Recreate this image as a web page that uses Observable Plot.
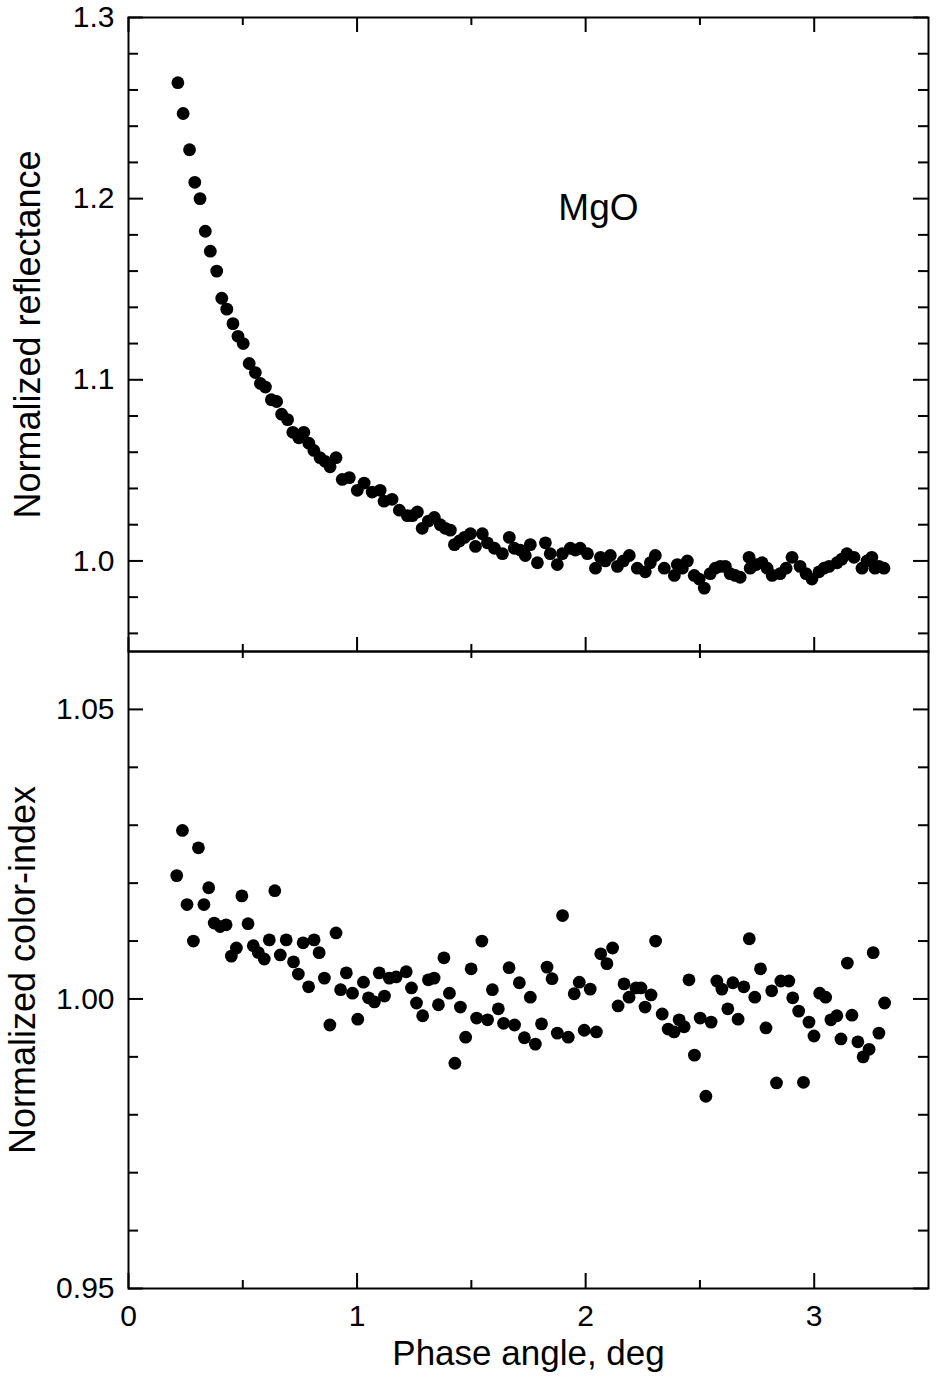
<!DOCTYPE html>
<html>
<head>
<meta charset="utf-8">
<script src="https://cdn.jsdelivr.net/npm/d3@7"></script>
<script src="https://cdn.jsdelivr.net/npm/@observablehq/plot@0.6"></script>
<style>
  html, body { margin: 0; padding: 0; background: #fff; }
  #chart { width: 938px; }
  #chart svg { display: block; }
</style>
</head>
<body>
<div id="chart"></div>
<script>
// ---- Data ----
// Top panel: normalized reflectance of MgO vs phase angle (deg)
const reflPhase = [0.216,0.239,0.267,0.290,0.313,0.336,0.358,0.386,0.408,0.430,
  0.457,0.479,0.502,0.528,0.555,0.577,0.599,0.625,0.648,0.670,
  0.696,0.719,0.745,0.767,0.789,0.811,0.838,0.860,0.882,0.908,
  0.935,0.966,1.001,1.031,1.066,1.101,1.118,1.153,1.185,1.220,
  1.242,1.264,1.285,1.312,1.338,1.364,1.386,1.408,1.426,1.448,
  1.470,1.496,1.518,1.548,1.570,1.601,1.636,1.666,1.688,1.714,
  1.736,1.758,1.789,1.824,1.845,1.876,1.898,1.933,1.955,1.976,
  2.008,2.043,2.065,2.086,2.108,2.139,2.165,2.191,2.226,2.261,
  2.283,2.305,2.344,2.388,2.401,2.423,2.445,2.475,2.497,2.519,
  2.545,2.567,2.589,2.611,2.632,2.654,2.676,2.715,2.720,2.746,
  2.772,2.794,2.816,2.851,2.877,2.903,2.938,2.964,2.990,3.021,
  3.043,3.065,3.100,3.121,3.143,3.174,3.209,3.231,3.252,3.266,
  3.283,3.305];
const reflValue = [1.264,1.247,1.227,1.209,1.200,1.182,1.171,1.160,1.145,1.139,
  1.131,1.124,1.120,1.109,1.104,1.098,1.096,1.089,1.088,1.081,
  1.078,1.071,1.068,1.071,1.065,1.061,1.057,1.055,1.052,1.057,
  1.045,1.046,1.039,1.043,1.038,1.039,1.033,1.034,1.028,1.025,
  1.025,1.027,1.018,1.022,1.024,1.020,1.018,1.017,1.009,1.011,
  1.013,1.015,1.008,1.015,1.010,1.007,1.004,1.013,1.007,1.006,
  1.003,1.009,0.999,1.010,1.004,0.998,1.004,1.007,1.006,1.007,
  1.004,0.996,1.002,1.000,1.003,0.997,1.000,1.003,0.996,0.994,
  0.999,1.003,0.996,0.992,0.998,0.996,1.000,0.992,0.990,0.985,
  0.993,0.996,0.997,0.997,0.993,0.992,0.991,1.002,0.996,0.998,
  0.999,0.996,0.992,0.993,0.996,1.002,0.997,0.993,0.990,0.994,
  0.996,0.997,0.999,1.001,1.004,1.002,0.996,1.000,1.002,0.996,
  0.997,0.996];

// Bottom panel: normalized color-index vs phase angle (deg)
const colorPhase = [0.211,0.236,0.256,0.284,0.306,0.330,0.351,0.375,0.401,0.427,
  0.450,0.472,0.496,0.523,0.546,0.568,0.594,0.616,0.640,0.664,
  0.690,0.722,0.743,0.764,0.788,0.812,0.834,0.857,0.881,0.908,
  0.928,0.953,0.980,1.003,1.028,1.050,1.076,1.097,1.120,1.141,
  1.171,1.215,1.238,1.260,1.287,1.312,1.337,1.356,1.380,1.404,
  1.428,1.452,1.475,1.499,1.523,1.546,1.571,1.592,1.618,1.641,
  1.665,1.689,1.710,1.732,1.758,1.780,1.807,1.831,1.853,1.876,
  1.899,1.924,1.950,1.972,1.994,2.020,2.047,2.066,2.093,2.118,
  2.142,2.168,2.190,2.220,2.242,2.260,2.286,2.306,2.335,2.361,
  2.387,2.409,2.431,2.452,2.476,2.501,2.526,2.549,2.574,2.596,
  2.622,2.644,2.667,2.692,2.716,2.740,2.765,2.789,2.814,2.835,
  2.854,2.889,2.906,2.932,2.953,2.977,2.999,3.024,3.050,3.073,
  3.099,3.117,3.145,3.165,3.191,3.214,3.240,3.258,3.283,3.308];
const colorValue = [1.0213,1.0291,1.0163,1.0100,1.0261,1.0163,1.0192,1.0131,1.0125,1.0128,
  1.0074,1.0088,1.0178,1.0130,1.0092,1.0080,1.0069,1.0102,1.0187,1.0076,
  1.0102,1.0064,1.0043,1.0097,1.0021,1.0102,1.0080,1.0036,0.9955,1.0114,
  1.0016,1.0045,1.0010,0.9965,1.0029,1.0002,0.9995,1.0045,1.0005,1.0036,
  1.0038,1.0047,1.0019,0.9993,0.9971,1.0033,1.0036,0.9990,1.0071,1.0010,
  0.9889,0.9986,0.9934,1.0052,0.9967,1.0100,0.9964,1.0016,0.9983,0.9958,
  1.0054,0.9955,1.0028,0.9933,1.0003,0.9922,0.9957,1.0055,1.0035,0.9941,
  1.0144,0.9934,1.0009,1.0029,0.9946,1.0017,0.9943,1.0078,1.0061,1.0088,
  0.9988,1.0026,1.0003,1.0019,1.0019,0.9986,1.0007,1.0100,0.9974,0.9948,
  0.9943,0.9964,0.9952,1.0033,0.9903,0.9967,0.9832,0.9960,1.0031,1.0017,
  0.9983,1.0028,0.9965,1.0021,1.0104,1.0003,1.0052,0.9950,1.0014,0.9855,
  1.0031,1.0031,1.0002,0.9979,0.9856,0.9960,0.9936,1.0010,1.0003,0.9964,
  0.9971,0.9931,1.0062,0.9972,0.9926,0.9900,0.9913,1.0080,0.9941,0.9993];

// Axes: domains and tick values
const xDomain = [0, 3.5];
const xTicksMajor = [0, 1, 2, 3];
const xTicksMinor = [0.5, 1.5, 2.5];
const reflDomain = [0.95, 1.3];
const reflTicksMajor = [1.0, 1.1, 1.2, 1.3];
const reflTicksMinor = [0.96, 0.98, 1.02, 1.04, 1.06, 1.08, 1.12, 1.14, 1.16, 1.18, 1.22, 1.24, 1.26, 1.28];
const colorDomain = [0.95, 1.06];
const colorTicksMajor = [0.95, 1.00, 1.05];
const colorTicksMinor = [0.96, 0.97, 0.98, 0.99, 1.01, 1.02, 1.03, 1.04];

// Texts
const reflTitle = "Normalized reflectance";
const colorTitle = "Normalized color-index";
const xTitle = "Phase angle, deg";
const sampleLabel = "MgO";
const sampleLabelPhase = 2.056;
const sampleLabelValue = 1.195;

// ---- Layout / style ----
const W = 938, ML = 128, MR = 10, PW = W - ML - MR;
const H1 = 651, MT1 = 17, PH1 = H1 - MT1;
const H2 = 733, MB2 = 96, PH2 = H2 - MB2;
const font = "'Liberation Sans', Arial, Helvetica, sans-serif";
const ink = "#000";
const SW = 2;
const MAJ = 15, MIN = 10, XMAJ = 15, XMIN = 8;
const R = 6.4;
const TICK_FS = 30, TITLE_FS = 36, XTITLE_FS = 35, LABEL_FS = 37;
const style = {fontFamily: font, fontSize: TICK_FS + "px", color: ink, background: "#fff", overflow: "visible"};

const reflData = reflPhase.map((p, i) => ({phase: p, value: reflValue[i]}));
const colorData = colorPhase.map((p, i) => ({phase: p, value: colorValue[i]}));

function yTicks(major, minor) {
  return [
    Plot.tickY(major, {y: d => d, insetRight: PW - MAJ, strokeWidth: SW}),
    Plot.tickY(minor, {y: d => d, insetRight: PW - MIN, strokeWidth: SW}),
    Plot.tickY(major, {y: d => d, insetLeft: PW - MAJ, strokeWidth: SW}),
    Plot.tickY(minor, {y: d => d, insetLeft: PW - MIN, strokeWidth: SW})
  ];
}

const topChart = Plot.plot({
  width: W, height: H1,
  marginLeft: ML, marginRight: MR, marginTop: MT1, marginBottom: 0,
  style,
  x: {domain: xDomain, axis: null},
  y: {domain: reflDomain},
  marks: [
    Plot.frame({stroke: ink, strokeWidth: SW}),
    ...yTicks(reflTicksMajor, reflTicksMinor),
    // top edge ticks (downward)
    Plot.tickX(xTicksMajor, {x: d => d, insetBottom: PH1 - XMAJ, strokeWidth: SW}),
    Plot.tickX(xTicksMinor, {x: d => d, insetBottom: PH1 - XMIN, strokeWidth: SW}),
    // bottom edge ticks (upward)
    Plot.tickX(xTicksMajor, {x: d => d, insetTop: PH1 - XMAJ + 1, strokeWidth: SW}),
    Plot.tickX(xTicksMinor, {x: d => d, insetTop: PH1 - 7, strokeWidth: SW}),
    Plot.axisY(reflTicksMajor, {tickSize: 0, tickPadding: 14, tickFormat: d3.format(".1f"), fontSize: TICK_FS, label: null}),
    Plot.dot(reflData, {x: "phase", y: "value", r: R, fill: ink, stroke: null}),
    Plot.text([reflTitle], {frameAnchor: "left", textAnchor: "middle", rotate: -90, dx: -100, fontSize: TITLE_FS, fill: ink}),
    Plot.text([sampleLabel], {x: () => sampleLabelPhase, y: () => sampleLabelValue, fontSize: LABEL_FS, fill: ink})
  ]
});

const bottomChart = Plot.plot({
  width: W, height: H2,
  marginLeft: ML, marginRight: MR, marginTop: 0, marginBottom: MB2,
  style,
  x: {domain: xDomain},
  y: {domain: colorDomain},
  marks: [
    Plot.frame({stroke: ink, strokeWidth: SW}),
    ...yTicks(colorTicksMajor, colorTicksMinor),
    // bottom edge ticks (upward)
    Plot.tickX(xTicksMajor, {x: d => d, insetTop: PH2 - XMAJ, strokeWidth: SW}),
    Plot.tickX(xTicksMinor, {x: d => d, insetTop: PH2 - XMIN, strokeWidth: SW}),
    // top edge ticks (downward)
    Plot.tickX(xTicksMinor, {x: d => d, insetBottom: PH2 - 7, strokeWidth: SW}),
    Plot.axisY(colorTicksMajor, {tickSize: 0, tickPadding: 14, tickFormat: d3.format(".2f"), fontSize: TICK_FS, label: null}),
    Plot.axisX(xTicksMajor, {tickSize: 0, tickPadding: 16, tickFormat: d3.format("d"), fontSize: TICK_FS, label: null}),
    Plot.dot(colorData, {x: "phase", y: "value", r: R, fill: ink, stroke: null}),
    Plot.text([colorTitle], {frameAnchor: "left", textAnchor: "middle", rotate: -90, dx: -105, fontSize: TITLE_FS, fill: ink}),
    Plot.text([xTitle], {frameAnchor: "bottom", dy: 76, fontSize: XTITLE_FS, fill: ink})
  ]
});

const chart = document.getElementById("chart");
chart.appendChild(topChart);
chart.appendChild(bottomChart);
</script>
</body>
</html>
